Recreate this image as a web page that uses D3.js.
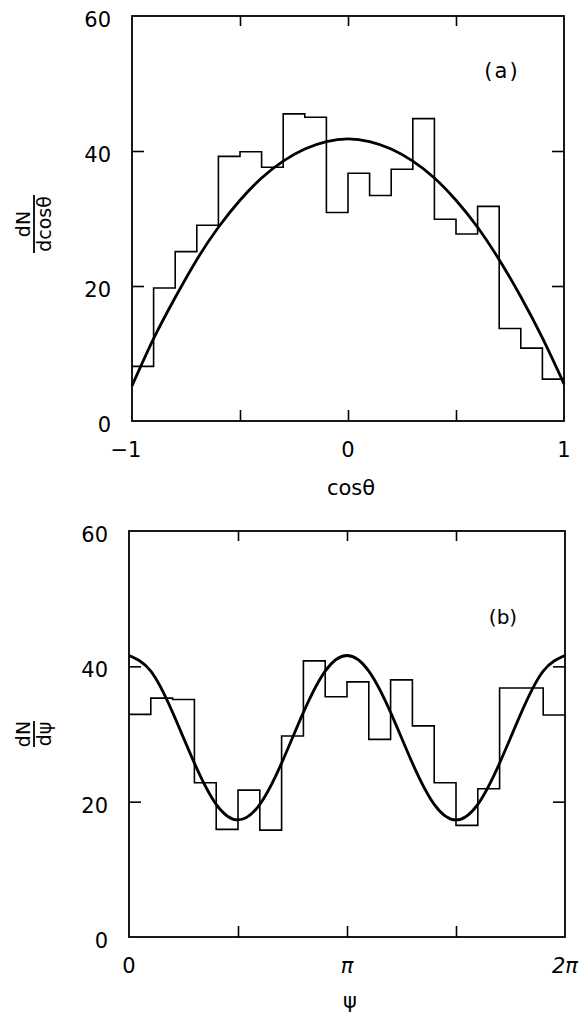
<!DOCTYPE html>
<html><head><meta charset="utf-8">
<script src="https://cdn.jsdelivr.net/npm/d3@7"></script>
<style>
body{margin:0;background:#fff;}
text{font-family:"DejaVu Sans","Liberation Sans",sans-serif;fill:#000;}
</style></head>
<body>
<svg id="c" width="585" height="1016"></svg>
<script>
// Panel (a): histogram of dN/dcosθ, 20 bins of width 0.1 from -1 to 1
const binsA = [8.1,19.7,25.1,29.0,39.2,39.9,37.6,45.5,45.0,30.9,36.7,33.4,37.3,44.8,29.9,27.7,31.8,13.7,10.8,6.2];
// fitted curve sampled at cosθ = -1 .. 1 step 0.1
const curveAx = [-1,-0.9,-0.8,-0.7,-0.6,-0.5,-0.4,-0.3,-0.2,-0.1,0,0.1,0.2,0.3,0.4,0.5,0.6,0.7,0.8,0.9,1];
const curveAy = [5.2,12.2,18.3,23.9,28.7,32.7,36.0,38.5,40.3,41.4,41.8,41.4,40.3,38.5,36.0,32.7,28.7,23.9,18.4,12.3,5.5];
const ticksAx = [-1,-0.5,0,0.5,1];
const labelsAx = ["\u22121","","0","","1"];
const ticksY = [0,20,40,60];

// Panel (b): histogram of dN/dψ, 20 bins of width π/10 from 0 to 2π (in units of π)
const binsB = [32.9,35.3,35.1,22.8,15.9,21.7,15.8,29.7,40.8,35.5,37.7,29.2,38.0,31.2,22.8,16.5,21.9,36.8,36.8,32.8];
// fitted curve sampled at ψ/π = 0 .. 2 step 0.1
const curveBx = [0,0.1,0.2,0.3,0.4,0.5,0.6,0.7,0.8,0.9,1,1.1,1.2,1.3,1.4,1.5,1.6,1.7,1.8,1.9,2];
const curveBy = [41.6,39.3,33.2,25.7,19.6,17.3,19.6,25.7,33.2,39.3,41.6,39.3,33.2,25.7,19.6,17.3,19.6,25.7,33.2,39.3,41.6];
const ticksBx = [0,0.5,1,1.5,2];
const labelsBx = ["0","","\u03c0","","2\u03c0"];

const svg = d3.select("#c");

function panel(o){
  const x = d3.scaleLinear().domain(o.xd).range([o.x0,o.x1]);
  const y = d3.scaleLinear().domain([0,60]).range([o.y0,o.y1]);
  const g = svg.append("g");
  g.append("rect").attr("x",o.x0).attr("y",o.y1).attr("width",o.x1-o.x0).attr("height",o.y0-o.y1)
    .attr("fill","none").attr("stroke","#000").attr("stroke-width",1.8);
  const inner = t => t.slice(1,-1);
  g.append("g").attr("transform",`translate(0,${o.y0})`).call(d3.axisBottom(x).tickValues(inner(o.xt)).tickSize(-11).tickFormat(""));
  g.append("g").attr("transform",`translate(0,${o.y1})`).call(d3.axisTop(x).tickValues(inner(o.xt)).tickSize(-10).tickFormat(""));
  g.append("g").attr("transform",`translate(${o.x0},0)`).call(d3.axisLeft(y).tickValues([20,40]).tickSize(-12).tickFormat(""));
  g.append("g").attr("transform",`translate(${o.x1},0)`).call(d3.axisRight(y).tickValues([20,40]).tickSize(-12).tickFormat(""));
  g.selectAll(".domain").remove();
  g.selectAll(".tick line").attr("stroke","#000").attr("stroke-width",1.6);
  g.selectAll(".ylab").data(ticksY).join("text")
    .attr("x",o.x0-21).attr("y",d=>y(d)+5).attr("text-anchor","end").attr("dominant-baseline","middle")
    .attr("font-size",21).text(d=>d);
  g.selectAll(".xlab").data(o.xt).join("text")
    .attr("x",(d,i)=>x(d)+(o.xlabs[i]==="\u22121"?-6:0)).attr("y",o.y0+30).attr("text-anchor","middle").attr("dominant-baseline","middle")
    .attr("font-size",21).attr("font-style",(d,i)=>o.xlabs[i].includes("\u03c0")?"italic":"normal").text((d,i)=>o.xlabs[i]);
  const w = (o.xd[1]-o.xd[0])/o.bins.length;
  const pts = o.bins.map((v,i)=>[o.xd[0]+i*w,v]);
  pts.push([o.xd[1],o.bins[o.bins.length-1]]);
  g.append("path").attr("d",d3.line().x(d=>x(d[0])).y(d=>y(d[1])).curve(d3.curveStepAfter)(pts))
    .attr("fill","none").attr("stroke","#000").attr("stroke-width",1.6);
  const cp = o.cx.map((v,i)=>[v,o.cy[i]]);
  g.append("path").attr("d",d3.line().x(d=>x(d[0])).y(d=>y(d[1])).curve(d3.curveNatural)(cp))
    .attr("fill","none").attr("stroke","#000").attr("stroke-width",2.8);
  g.append("text").attr("x",o.lx).attr("y",o.ly).attr("text-anchor","middle").attr("dominant-baseline","middle")
    .attr("font-size",o.lfs).attr("letter-spacing",o.ls).text(o.ltext);
  g.append("text").attr("x",(o.x0+o.x1)/2+3).attr("y",o.xty).attr("text-anchor","middle").attr("dominant-baseline","middle")
    .attr("font-size",21).text(o.xtitle);
  const yt = g.append("g").attr("transform",`translate(34,${o.yty}) rotate(-90)`);
  yt.append("text").attr("x",0).attr("y",-4).attr("text-anchor","middle").attr("font-size",19).text("dN");
  yt.append("line").attr("x1",-o.fw/2).attr("x2",o.fw/2).attr("y1",0).attr("y2",0).attr("stroke","#000").attr("stroke-width",1.8);
  yt.append("text").attr("x",0).attr("y",17).attr("text-anchor","middle").attr("font-size",19).text(o.den);
}

panel({xd:[-1,1],x0:132,x1:564,y0:421,y1:16,bins:binsA,cx:curveAx,cy:curveAy,xt:ticksAx,xlabs:labelsAx,
  lx:502,ly:72,ltext:"(a)",ls:2,lfs:21,xtitle:"cos\u03b8",xty:489,yty:224,fw:58,den:"dcos\u03b8"});
panel({xd:[0,2],x0:129,x1:565,y0:937,y1:531,bins:binsB,cx:curveBx,cy:curveBy,xt:ticksBx,xlabs:labelsBx,
  lx:503,ly:618,ltext:"(b)",ls:0,lfs:20,xtitle:"\u03c8",xty:1002,yty:734,fw:26,den:"d\u03c8"});
</script>
</body></html>
